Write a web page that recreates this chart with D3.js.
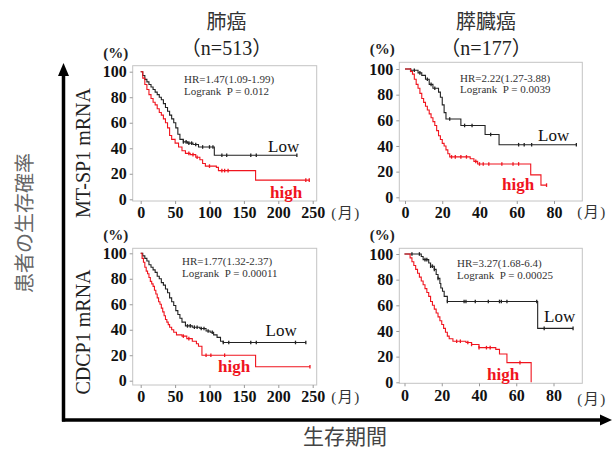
<!DOCTYPE html>
<html>
<head>
<meta charset="utf-8">
<script src="https://cdn.jsdelivr.net/npm/d3@7"></script>
<style>
  body { margin: 0; background: #fff; }
  svg text { font-family: "Liberation Serif", "Noto Sans CJK JP", serif; }
</style>
</head>
<body>
<div id="holder"></div>
<script>
// ---- data ----
const yTicks = [0, 20, 40, 60, 80, 100];
const xTicksLung = [0, 50, 100, 150, 200, 250];
const xTicksPanc = [0, 20, 40, 60, 80];

const titles = ["肺癌", "膵臓癌"];
const counts = ["（n=513）", "（n=177）"];
const genes = ["MT-SP1 mRNA", "CDCP1 mRNA"];
const hrText = ["HR=1.47(1.09-1.99)", "HR=2.22(1.27-3.88)", "HR=1.77(1.32-2.37)", "HR=3.27(1.68-6.4)"];
const pText = ["Logrank  P = 0.012", "Logrank  P = 0.0039", "Logrank  P = 0.00011", "Logrank  P = 0.00025"];

// [month, survival %] at each step, last value held until end month
const lungMtLow = [[0,100],[3,97],[6,94],[9,92],[12,90],[15,88],[18,86],[21,84],[24,82],[27,80],[30,78],[33,75],[36,72],[39,69],[42,66],[45,63],[48,60],[51,56],[54,51],[57,47],[62,45],[68,44],[76,43],[84,41],[107,34.5]];
const lungMtHigh = [[0,100],[3,95],[6,90],[9,86],[12,82],[15,79],[18,76],[21,74],[24,71],[27,68],[30,66],[33,63],[36,60],[39,56],[42,50],[45,47],[50,44],[55,41],[60,38],[65,36],[72,35],[80,33],[86,31],[90,28],[94,26],[110,25],[113,22.5],[167,15]];
const pancMtLow = [[0,100],[3,99],[7,97],[9,95],[11,92],[13,88],[15,85],[18,82],[19,78],[20,72],[21,66],[22,61],[30,56],[43,49],[50.5,41]];
const pancMtHigh = [[0,100],[3,98],[4,96],[5,92],[6,88],[7,85],[8,81],[9,77],[10,74],[11,71],[12,68],[13,65],[14,62],[15,59],[16,56],[17,52],[18,48],[19,45],[20,42],[21,40],[22,37],[23,34],[24,31.5],[35,30],[37,28],[39,26],[67.5,17.5],[73,9.5]];
const lungCdLow = [[0,100],[3,98],[6,96],[9,94],[12,91],[15,89],[18,87],[21,85],[24,82],[27,80],[30,77],[33,75],[36,72],[39,69],[42,65],[45,62],[48,59],[51,55],[54,52],[57,49],[60,46],[65,43],[75,42],[86,41],[95,39],[101,38],[106,36],[111,34],[116,31],[120,30]];
const lungCdHigh = [[0,100],[2,96],[4,93],[6,89],[8,86],[10,84],[12,81],[14,78],[16,76],[18,74],[20,71],[22,68],[24,65],[26,62],[28,60],[30,57],[32,54],[34,51],[36,48],[38,46],[40,44],[42,42],[45,40],[48,38],[52,36],[60,35],[67,33],[75,31],[81,29],[84,27],[89,20],[167,11]];
const pancCdLow = [[0,100],[9,98],[10,95.6],[13,93],[14,90.5],[16,88],[17,84],[18,81],[19,77],[19.5,73.5],[20.4,71],[21.3,67],[23,63],[71.5,42]];
const pancCdHigh = [[0,100],[3,97],[4,94],[5,91],[6,88],[7,85],[8,82],[9,79],[10,76],[11,73],[12,70],[13,67],[14,63],[15,60],[16,57],[17,54],[18,51],[19,48],[20,45],[21,42],[22,39],[23,36],[24,34],[26,32],[33,31],[36,29.5],[40,27],[49,25.7],[51,22],[55,15.3],[68,0]];

const endMonths = [[227, 245], [92, 76], [240, 246], [90.5, 68]]; // [low, high]

// censored times
const censLungMtLow = [62,66,70,74,80,90,100,105,118,125,160,168,227];
const censLungMtHigh = [70,76,82,100,118,122,127,240,245];
const censPancMtLow = [3,5,8,12,14,16,24,32,36,46,61,64,68,92];
const censPancMtHigh = [25,27,30,33,38,40,42,45,52,58,61,76];
const censLungCdLow = [68,72,78,82,88,92,98,104,120,128,160,168,225,240];
const censLungCdHigh = [62,70,95,102,122,246];
const censPancCdLow = [4,8,11,12,14,15,16,18,23,32,33,38,45,51,52,55,71,75,90.5];
const censPancCdHigh = [28,30,34,36,40,44,46,62];

// ---- layout ----
const width = 612, height = 449;
const red = "#f0141e", black = "#222";

const panels = [
  {box: [132.7, 65.7, 316.7, 201], xd: 250, xr: [140.7, 312.7], yr: [199.3, 71.7], xt: xTicksLung,
   low: lungMtLow, high: lungMtHigh, cl: censLungMtLow, ch: censLungMtHigh,
   stat: [184, 79], lowPos: [268, 152], highPos: [270, 198], month: [346, 218]},
  {box: [399.3, 62.3, 582.3, 201], xd: 80, xr: [405, 554], yr: [197.3, 69], xt: xTicksPanc,
   low: pancMtLow, high: pancMtHigh, cl: censPancMtLow, ch: censPancMtHigh,
   stat: [460, 77.5], lowPos: [538, 141], highPos: [502, 190], month: [592, 217]},
  {box: [132.7, 248.3, 316.7, 385], xd: 250, xr: [140.7, 312.7], yr: [380.7, 253.3], xt: xTicksLung,
   low: lungCdLow, high: lungCdHigh, cl: censLungCdLow, ch: censLungCdHigh,
   stat: [182, 261], lowPos: [265.5, 336], highPos: [218, 372], month: [346, 402]},
  {box: [399.3, 248.3, 582.3, 383.3], xd: 80, xr: [404.5, 553.5], yr: [382.3, 254], xt: xTicksPanc,
   low: pancCdLow, high: pancCdHigh, cl: censPancCdLow, ch: censPancCdHigh,
   stat: [457, 263], lowPos: [544, 322], highPos: [487, 380], month: [592, 404]}
];

const svg = d3.select("#holder").append("svg")
  .attr("width", width).attr("height", height);

function survAt(curve, t) {
  let s = curve[0][1];
  for (let i = 0; i < curve.length; i++) {
    if (curve[i][0] <= t) s = curve[i][1];
  }
  return s;
}

panels.forEach((p, i) => {
  const x = d3.scaleLinear().domain([0, p.xd]).range(p.xr);
  const y = d3.scaleLinear().domain([0, 100]).range(p.yr);
  const g = svg.append("g");

  g.append("rect")
    .attr("x", p.box[0]).attr("y", p.box[1])
    .attr("width", p.box[2] - p.box[0]).attr("height", p.box[3] - p.box[1])
    .attr("fill", "#fff").attr("stroke", "#c4c4c4").attr("stroke-width", 1);

  const yAxis = g.append("g")
    .attr("transform", `translate(${p.box[0]},0)`)
    .call(d3.axisLeft(y).tickValues(yTicks).tickSize(3).tickPadding(3));
  yAxis.select(".domain").remove();
  yAxis.selectAll("line").attr("stroke", "#999");
  yAxis.selectAll("text").attr("font-size", 16).attr("font-weight", "bold").attr("fill", "#111")
    .attr("font-family", "Liberation Serif");

  const xAxis = g.append("g")
    .attr("transform", `translate(0,${p.box[3]})`)
    .call(d3.axisBottom(x).tickValues(p.xt).tickSize(3).tickPadding(3));
  xAxis.select(".domain").remove();
  xAxis.selectAll("line").attr("stroke", "#999");
  xAxis.selectAll("text").attr("font-size", 16).attr("font-weight", "bold").attr("fill", "#111")
    .attr("font-family", "Liberation Serif");

  g.append("text").attr("x", p.box[0] - 17).attr("y", p.box[1] - 8)
    .attr("text-anchor", "middle").attr("font-size", 15).attr("font-weight", "bold")
    .attr("fill", "#222").text("(%)");
  g.append("text").attr("x", p.month[0]).attr("y", p.month[1])
    .attr("text-anchor", "middle").attr("font-size", 15).attr("fill", "#333")
    .attr("letter-spacing", 1.5).text("(月)");

  const line = d3.line().x(d => x(d[0])).y(d => y(d[1])).curve(d3.curveStepAfter);
  const series = [
    {c: p.low, cens: p.cl, end: endMonths[i][0], col: black},
    {c: p.high, cens: p.ch, end: endMonths[i][1], col: red}
  ];
  series.forEach(s => {
    const pts = s.c.concat([[s.end, s.c[s.c.length - 1][1]]]);
    g.append("path").attr("d", line(pts)).attr("fill", "none")
      .attr("stroke", s.col).attr("stroke-width", 1.1);
    g.selectAll(null).data(s.cens).enter().append("line")
      .attr("x1", d => x(d)).attr("x2", d => x(d))
      .attr("y1", d => y(survAt(s.c, d)) - 1.8).attr("y2", d => y(survAt(s.c, d)) + 1.8)
      .attr("stroke", s.col).attr("stroke-width", 1.3);
  });

  g.append("text").attr("x", p.stat[0]).attr("y", p.stat[1] + 4)
    .attr("font-size", 11).attr("fill", "#333").text(hrText[i]);
  g.append("text").attr("x", p.stat[0]).attr("y", p.stat[1] + 15.5)
    .attr("font-size", 11).attr("fill", "#333").attr("xml:space", "preserve").text(pText[i]);

  g.append("text").attr("x", p.lowPos[0]).attr("y", p.lowPos[1])
    .attr("font-size", 17).attr("fill", "#111").text("Low");
  g.append("text").attr("x", p.highPos[0]).attr("y", p.highPos[1])
    .attr("font-size", 17).attr("font-weight", "bold").attr("fill", red).text("high");
});

// column titles
[226.5, 486].forEach((cx, j) => {
  svg.append("text").attr("x", cx).attr("y", 29).attr("text-anchor", "middle")
    .attr("font-size", 20).attr("fill", "#333").text(titles[j]);
  svg.append("text").attr("x", cx).attr("y", 55).attr("text-anchor", "middle")
    .attr("font-size", 20).attr("fill", "#222").text(counts[j]);
});

// row labels
[153, 332].forEach((cy, j) => {
  svg.append("text").attr("transform", `translate(90,${cy}) rotate(-90)`)
    .attr("text-anchor", "middle").attr("font-size", 20).attr("fill", "#222").text(genes[j]);
});

// big axes with arrows
const axisCol = "#000";
svg.append("line").attr("x1", 63.5).attr("x2", 63.5).attr("y1", 74).attr("y2", 421.5)
  .attr("stroke", axisCol).attr("stroke-width", 3.5);
svg.append("line").attr("x1", 62).attr("x2", 603).attr("y1", 420).attr("y2", 420)
  .attr("stroke", axisCol).attr("stroke-width", 3.5);
svg.append("path").attr("d", "M63.5,63 L58,76 L69,76 Z").attr("fill", axisCol);
svg.append("path").attr("d", "M612,420 L600,414.5 L600,425.5 Z").attr("fill", axisCol);

svg.append("text").attr("transform", "translate(32,223) rotate(-90)")
  .attr("text-anchor", "middle").attr("font-size", 20).attr("fill", "#666").text("患者の生存確率");
svg.append("text").attr("x", 345).attr("y", 444).attr("text-anchor", "middle")
  .attr("font-size", 21).attr("fill", "#444").text("生存期間");
</script>
</body>
</html>
